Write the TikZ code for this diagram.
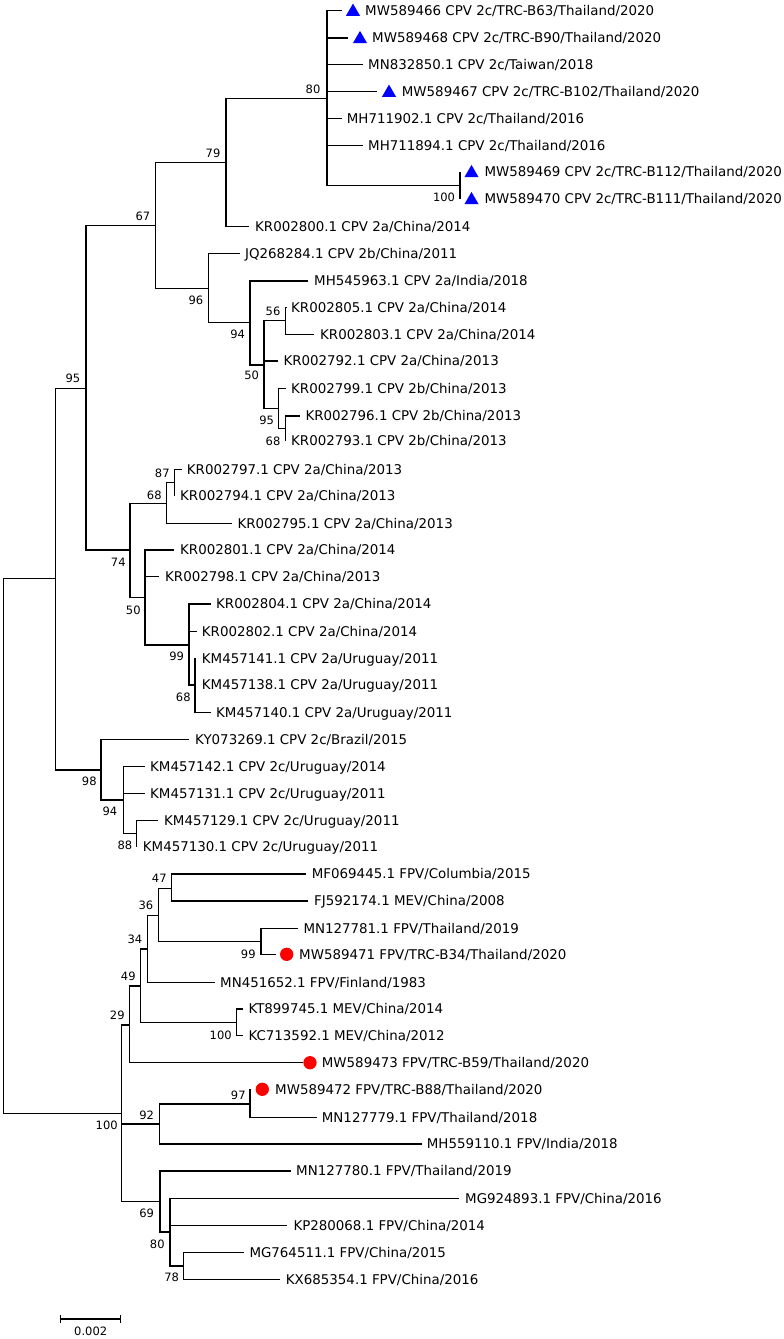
\documentclass[tikz,border=0pt]{standalone}
\usepackage{fontspec}
\setmainfont{DejaVu Sans}
\usetikzlibrary{shapes.geometric}
\tikzset{
  br/.style={line width=1.5pt, black},
  lab/.style={font=\fontsize{13.4}{15}\selectfont, inner sep=0pt, anchor=base west},
  bs/.style={font=\fontsize{11.5}{13}\selectfont, inner sep=0pt},
  tri/.style={regular polygon, regular polygon sides=3, fill={rgb,255:red,0;green,0;blue,255}, draw=none, inner sep=0pt, minimum size=16.2pt},
  dot/.style={circle, fill={rgb,255:red,255;green,0;blue,0}, draw=none, inner sep=0pt, minimum size=13.3pt}
}
\newcommand{\leafnode}[5]{\coordinate (#1) at (#2,#3); \node[lab] (#1t) at (#4,#3+4.9) {#5};}
\begin{document}
\begin{tikzpicture}[x=1pt,y=-1pt]
\useasboundingbox (0,0) rectangle (784,1339);
% ---------- internal nodes ----------
\coordinate (root) at (3.3,845.8);
\coordinate (nA) at (55.3,578.3);
\coordinate (n95) at (86,388.3);        \node[bs] (b95) at (73,378) {95};
\coordinate (n67) at (155.7,225.7);     \node[bs] (b67) at (143,216) {67};
\coordinate (n79) at (226,162.7);       \node[bs] (b79) at (213,153) {79};
\coordinate (n80) at (327,98.7);        \node[bs] (b80) at (313,89) {80};
\coordinate (n100a) at (460,185.7);     \node[bs] (b100a) at (444,197) {100};
\coordinate (n96) at (208.7,288.3);     \node[bs] (b96) at (196,300) {96};
\coordinate (n94) at (250,322.7);       \node[bs] (b94) at (237.7,334.3) {94};
\coordinate (n50) at (264,365);         \node[bs] (b50) at (251.7,375.7) {50};
\coordinate (n56) at (285.7,320.7);     \node[bs] (b56) at (273,311.7) {56};
\coordinate (n95b) at (278.3,408.3);    \node[bs] (b95b) at (266.7,420) {95};
\coordinate (n68a) at (285.7,428.5);    \node[bs] (b68a) at (273,441) {68};
\coordinate (n74) at (130,550);         \node[bs] (b74) at (118.3,562.7) {74};
\coordinate (n68b) at (166.7,503.3);    \node[bs] (b68b) at (154.3,495) {68};
\coordinate (n87) at (174.3,482.7);     \node[bs] (b87) at (162.3,473.3) {87};
\coordinate (n50b) at (145,597.3);      \node[bs] (b50b) at (133.3,610) {50};
\coordinate (n99a) at (189,645);        \node[bs] (b99a) at (176.7,656.7) {99};
\coordinate (n68c) at (195,685);        \node[bs] (b68c) at (183.3,697.3) {68};
\coordinate (n98) at (101,770);         \node[bs] (b98) at (89.3,781.7) {98};
\coordinate (n94c) at (123.3,800);      \node[bs] (b94c) at (110,811.7) {94};
\coordinate (n88) at (136.7,833.3);     \node[bs] (b88) at (125,845) {88};
\coordinate (n100) at (121.7,1113.3);   \node[bs] (b100) at (106.7,1125) {100};
\coordinate (n29) at (129.3,1025);      \node[bs] (b29) at (117.3,1015) {29};
\coordinate (n49) at (140.7,986);       \node[bs] (b49) at (128.3,976.7) {49};
\coordinate (n34) at (147.7,949);       \node[bs] (b34) at (135,939.3) {34};
\coordinate (n36) at (158.3,915.7);     \node[bs] (b36) at (146,905) {36};
\coordinate (n47) at (171.7,888.3);     \node[bs] (b47) at (159.3,878.3) {47};
\coordinate (n99b) at (261,941.7);      \node[bs] (b99b) at (248.3,954) {99};
\coordinate (n100b) at (236.7,1022.7);  \node[bs] (b100b) at (220.7,1035) {100};
\coordinate (n92) at (159.3,1124);      \node[bs] (b92) at (146.7,1115) {92};
\coordinate (n97) at (250,1104);        \node[bs] (b97) at (238.3,1095) {97};
\coordinate (n69) at (160,1201.7);      \node[bs] (b69) at (146.7,1213.3) {69};
\coordinate (n80b) at (170,1232);       \node[bs] (b80b) at (157.3,1244) {80};
\coordinate (n78) at (183.3,1266);      \node[bs] (b78) at (171.7,1277.3) {78};
% ---------- leaves ----------
\leafnode{L1}{341.7}{10.7}{365}{MW589466 CPV 2c/TRC-B63/Thailand/2020}
\leafnode{L2}{348}{38}{372}{MW589468 CPV 2c/TRC-B90/Thailand/2020}
\leafnode{L3}{362.7}{64.7}{368}{MN832850.1 CPV 2c/Taiwan/2018}
\leafnode{L4}{376.7}{91.7}{401.7}{MW589467 CPV 2c/TRC-B102/Thailand/2020}
\leafnode{L5}{341.7}{118.3}{346.7}{MH711902.1 CPV 2c/Thailand/2016}
\leafnode{L6}{363}{145.7}{368}{MH711894.1 CPV 2c/Thailand/2016}
\leafnode{L7}{460}{172}{484.3}{MW589469 CPV 2c/TRC-B112/Thailand/2020}
\leafnode{L8}{460}{199}{484.3}{MW589470 CPV 2c/TRC-B111/Thailand/2020}
\leafnode{kr2800}{249}{226.7}{255}{KR002800.1 CPV 2a/China/2014}
\leafnode{jq}{240}{253.3}{245}{JQ268284.1 CPV 2b/China/2011}
\leafnode{mh545}{308.3}{281}{314}{MH545963.1 CPV 2a/India/2018}
\leafnode{kr2805}{286.7}{307.3}{291}{KR002805.1 CPV 2a/China/2014}
\leafnode{kr2803}{314}{334.3}{320}{KR002803.1 CPV 2a/China/2014}
\leafnode{kr2792}{278.3}{361}{283.3}{KR002792.1 CPV 2a/China/2013}
\leafnode{kr2799}{285.7}{388.3}{291}{KR002799.1 CPV 2b/China/2013}
\leafnode{kr2796}{300}{416}{305.3}{KR002796.1 CPV 2b/China/2013}
\leafnode{kr2793}{285.7}{441}{291}{KR002793.1 CPV 2b/China/2013}
\leafnode{kr2797}{181.7}{469.3}{186.7}{KR002797.1 CPV 2a/China/2013}
\leafnode{kr2794}{174.3}{495.7}{180}{KR002794.1 CPV 2a/China/2013}
\leafnode{kr2795}{231.7}{523.3}{237.3}{KR002795.1 CPV 2a/China/2013}
\leafnode{kr2801}{174}{550}{180}{KR002801.1 CPV 2a/China/2014}
\leafnode{kr2798}{159.3}{576.7}{165}{KR002798.1 CPV 2a/China/2013}
\leafnode{kr2804}{210.7}{604}{216}{KR002804.1 CPV 2a/China/2014}
\leafnode{kr2802}{196.7}{631.7}{201.7}{KR002802.1 CPV 2a/China/2014}
\leafnode{km141}{195}{658.3}{201.7}{KM457141.1 CPV 2a/Uruguay/2011}
\leafnode{km138}{195}{685}{201.7}{KM457138.1 CPV 2a/Uruguay/2011}
\leafnode{km140}{210.7}{712.3}{216}{KM457140.1 CPV 2a/Uruguay/2011}
\leafnode{ky}{189.3}{739.3}{195}{KY073269.1 CPV 2c/Brazil/2015}
\leafnode{km142}{145}{766.7}{150}{KM457142.1 CPV 2c/Uruguay/2014}
\leafnode{km131}{145}{793.3}{150}{KM457131.1 CPV 2c/Uruguay/2011}
\leafnode{km129}{158.3}{820.7}{164}{KM457129.1 CPV 2c/Uruguay/2011}
\leafnode{km130}{136.7}{846.7}{142.7}{KM457130.1 CPV 2c/Uruguay/2011}
\leafnode{mf}{306}{874}{311.7}{MF069445.1 FPV/Columbia/2015}
\leafnode{fj}{308.3}{901}{314}{FJ592174.1 MEV/China/2008}
\leafnode{mn781}{298.3}{928.3}{303.3}{MN127781.1 FPV/Thailand/2019}
\leafnode{mw471}{276}{954.3}{299}{MW589471 FPV/TRC-B34/Thailand/2020}
\leafnode{mn451}{215}{982.3}{220}{MN451652.1 FPV/Finland/1983}
\leafnode{kt}{243.3}{1009}{248.3}{KT899745.1 MEV/China/2014}
\leafnode{kc}{243.3}{1035.7}{248.3}{KC713592.1 MEV/China/2012}
\leafnode{mw473}{303.3}{1062.7}{321.7}{MW589473 FPV/TRC-B59/Thailand/2020}
\leafnode{mw472}{250}{1089.3}{275}{MW589472 FPV/TRC-B88/Thailand/2020}
\leafnode{mn779}{316.7}{1117.3}{321.7}{MN127779.1 FPV/Thailand/2018}
\leafnode{mh559}{421.7}{1144}{426.7}{MH559110.1 FPV/India/2018}
\leafnode{mn780}{290.7}{1171}{296}{MN127780.1 FPV/Thailand/2019}
\leafnode{mg924}{459.3}{1198.3}{465}{MG924893.1 FPV/China/2016}
\leafnode{kp}{287.3}{1225.7}{293.3}{KP280068.1 FPV/China/2014}
\leafnode{mg764}{244}{1252.7}{249.3}{MG764511.1 FPV/China/2015}
\leafnode{kx}{280}{1279.3}{285.7}{KX685354.1 FPV/China/2016}
% ---------- markers ----------
\node[tri] (m1) at (353,11.7) {};
\node[tri] (m2) at (360,39) {};
\node[tri] (m4) at (389,92.7) {};
\node[tri] (m7) at (471.5,173) {};
\node[tri] (m8) at (471.5,200) {};
\node[dot] (c471) at (286.7,954.3) {};
\node[dot] (c473) at (310,1062.7) {};
\node[dot] (c472) at (262.3,1089.3) {};
% ---------- branches ----------
\draw[br] (root) |- (nA) (root) |- (n100);
\draw[br] (nA) |- (n95) (nA) |- (n98);
\draw[br] (n95) |- (n67) (n95) |- (n74);
\draw[br] (n67) |- (n79) (n67) |- (n96);
\draw[br] (n79) |- (n80) (n79) |- (kr2800);
\draw[br] (n80) |- (L1) (n80) |- (L2) (n80) |- (L3) (n80) |- (L4) (n80) |- (L5) (n80) |- (L6) (n80) |- (n100a);
\draw[br] (n100a) |- (L7) (n100a) |- (L8);
\draw[br] (n96) |- (jq) (n96) |- (n94);
\draw[br] (n94) |- (mh545) (n94) |- (n50);
\draw[br] (n50) |- (n56) (n50) |- (kr2792) (n50) |- (n95b);
\draw[br] (n56) |- (kr2805) (n56) |- (kr2803);
\draw[br] (n95b) |- (kr2799) (n95b) |- (n68a);
\draw[br] (n68a) |- (kr2796) (n68a) |- (kr2793);
\draw[br] (n74) |- (n68b) (n74) |- (n50b);
\draw[br] (n68b) |- (n87) (n68b) |- (kr2795);
\draw[br] (n87) |- (kr2797) (n87) |- (kr2794);
\draw[br] (n50b) |- (kr2801) (n50b) |- (kr2798) (n50b) |- (n99a);
\draw[br] (n99a) |- (kr2804) (n99a) |- (kr2802) (n99a) |- (n68c);
\draw[br] (n68c) |- (km141) (n68c) |- (km138) (n68c) |- (km140);
\draw[br] (n98) |- (ky) (n98) |- (n94c);
\draw[br] (n94c) |- (km142) (n94c) |- (km131) (n94c) |- (n88);
\draw[br] (n88) |- (km129) (n88) |- (km130);
\draw[br] (n100) |- (n29) (n100) |- (n92) (n100) |- (n69);
\draw[br] (n29) |- (n49) (n29) |- (mw473);
\draw[br] (n49) |- (n34) (n49) |- (n100b);
\draw[br] (n34) |- (n36) (n34) |- (mn451);
\draw[br] (n36) |- (n47) (n36) |- (n99b);
\draw[br] (n47) |- (mf) (n47) |- (fj);
\draw[br] (n99b) |- (mn781) (n99b) |- (mw471);
\draw[br] (n100b) |- (kt) (n100b) |- (kc);
\draw[br] (n92) |- (n97) (n92) |- (mh559);
\draw[br] (n97) |- (mw472) (n97) |- (mn779);
\draw[br] (n69) |- (mn780) (n69) |- (n80b);
\draw[br] (n80b) |- (mg924) (n80b) |- (kp) (n80b) |- (n78);
\draw[br] (n78) |- (mg764) (n78) |- (kx);
% ---------- scale bar ----------
\coordinate (sb1) at (60.7,1319);
\coordinate (sb2) at (120.7,1319);
\draw[br] (sb1) -- (sb2);
\draw[br] ([yshift=4pt]sb1) -- ([yshift=-4pt]sb1);
\draw[br] ([yshift=4pt]sb2) -- ([yshift=-4pt]sb2);
\node[bs] (sbl) at (90.7,1331) {0.002};
\end{tikzpicture}
\end{document}
